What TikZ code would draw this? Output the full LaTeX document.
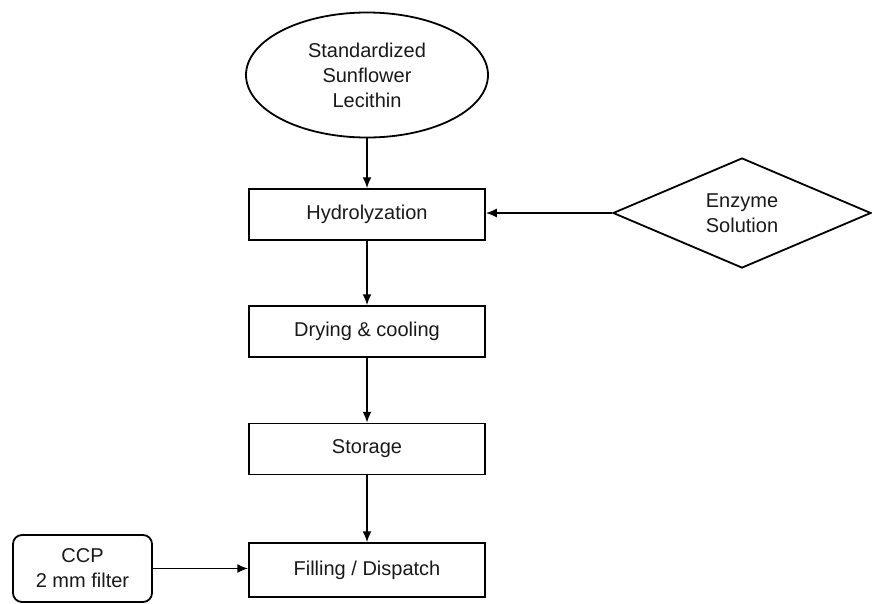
\documentclass[tikz,border=0pt]{standalone}
\usepackage{fontspec}
\setmainfont{Liberation Sans}
\usetikzlibrary{shapes.geometric,arrows.meta}
\begin{document}
\begin{tikzpicture}[x=1pt,y=-1pt,
  every node/.style={font=\fontsize{20}{25}\selectfont, text=black!90, align=center},
  procbox/.style={draw, line width=1.5pt, minimum width=236pt, minimum height=51pt, inner sep=0pt},
  conn/.style={line width=1.8pt, -{Latex[length=11pt,width=9pt]}}]
\useasboundingbox (0,0) rectangle (872,603);
\node[draw, ellipse, line width=1.8pt, minimum width=242pt, minimum height=125pt, inner sep=0pt] (src) at (367,75) {Standardized\\Sunflower\\Lecithin};
\node[procbox] (hyd) at (367,214.5) {Hydrolyzation};
\node[procbox] (dry) at (367,331.5) {Drying \& cooling};
\node[procbox] (sto) at (367,449) {Storage};
\node[procbox, minimum height=54pt] (fil) at (367,570) {Filling / Dispatch};
\node[draw, diamond, line width=1.8pt, minimum width=258pt, minimum height=110pt, inner sep=0pt, aspect=2.35] (enz) at (742,213) {Enzyme\\Solution};
\node[draw, rounded corners=9pt, line width=1.8pt, minimum width=139pt, minimum height=67pt, inner sep=0pt] (ccp) at (82.5,568.5) {CCP\\2 mm filter};
\draw[conn] (src) -- (hyd);
\draw[conn] (hyd) -- (dry);
\draw[conn] (dry) -- (sto);
\draw[conn] (sto) -- (fil);
\draw[conn] (enz.west) -- (hyd.east |- enz.west);
\draw[conn] (ccp.east) -- (fil.west |- ccp.east);
\end{tikzpicture}
\end{document}
